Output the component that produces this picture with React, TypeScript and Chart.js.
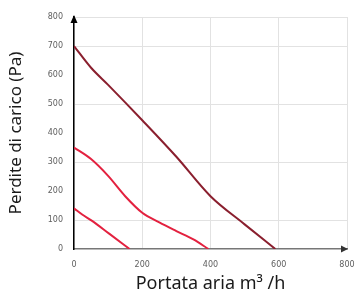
import React, { useEffect, useRef } from "react";
import { Chart, registerables } from "chart.js";

Chart.register(...registerables);

// Air flow (m³/h) and pressure drop (Pa) for each curve
const highFlow = [0, 50, 100, 200, 300, 400, 500, 590];
const highPressure = [700, 625, 566, 444, 318, 182, 85, 0];
const midFlow = [0, 50, 100, 150, 200, 250, 300, 350, 394];
const midPressure = [350, 310, 252, 182, 125, 92, 62, 33, 0];
const lowFlow = [0, 25, 53, 104, 163];
const lowPressure = [140, 118, 97, 52, 0];

const xTicks = [0, 200, 400, 600, 800];
const yTicks = [0, 100, 200, 300, 400, 500, 600, 700, 800];
const xTitle = "Portata aria m³ /h";
const yTitle = "Perdite di carico (Pa)";

const toPoints = (xs: number[], ys: number[]) => xs.map((x, i) => ({ x, y: ys[i] }));

const arrowPlugin = {
  id: "arrows",
  afterDraw(chart: any) {
    const { ctx, chartArea } = chart;
    ctx.save();
    ctx.fillStyle = "#000";
    ctx.beginPath();
    ctx.moveTo(chartArea.left, chartArea.top - 2);
    ctx.lineTo(chartArea.left - 3.5, chartArea.top + 6);
    ctx.lineTo(chartArea.left + 3.5, chartArea.top + 6);
    ctx.closePath();
    ctx.fill();
    ctx.fillStyle = "#333";
    ctx.beginPath();
    ctx.moveTo(chartArea.right + 1, chartArea.bottom);
    ctx.lineTo(chartArea.right - 6, chartArea.bottom - 3.5);
    ctx.lineTo(chartArea.right - 6, chartArea.bottom + 3.5);
    ctx.closePath();
    ctx.fill();
    ctx.restore();
  },
};

export default function App() {
  const ref = useRef<HTMLCanvasElement>(null);
  useEffect(() => {
    if (!ref.current) return;
    const tickFont = { family: "'DejaVu Sans', sans-serif", size: 8 };
    const line = (data: any, color: string) => ({
      data,
      borderColor: color,
      backgroundColor: color,
      borderWidth: 2,
      pointRadius: 0,
      cubicInterpolationMode: "monotone" as const,
      fill: false,
    });
    const chart = new Chart(ref.current, {
      type: "line",
      data: {
        datasets: [
          line(toPoints(highFlow, highPressure), "#8a1f2e"),
          line(toPoints(midFlow, midPressure), "#e3213f"),
          line(toPoints(lowFlow, lowPressure), "#e3213f"),
        ],
      },
      plugins: [arrowPlugin],
      options: {
        animation: false,
        responsive: false,
        maintainAspectRatio: false,
        layout: { padding: { top: 17, right: 11, left: 0, bottom: 0 } },
        plugins: { legend: { display: false }, tooltip: { enabled: false } },
        scales: {
          x: {
            type: "linear",
            min: 0,
            max: 800,
            afterBuildTicks: (s: any) => {
              s.ticks = xTicks.map((v) => ({ value: v }));
            },
            afterFit: (s: any) => {
              s.height = 45;
              s.paddingLeft = 0;
              s.paddingRight = 0;
            },
            ticks: { font: tickFont, color: "#5e5e5e", padding: 11 },
            grid: { color: "#e2e2e2", drawTicks: false },
            border: { color: "#777", width: 1.5 },
            title: {
              display: true,
              text: xTitle,
              font: { family: "'Noto Sans', sans-serif", size: 18, lineHeight: 1.1 },
              color: "#1a1a1a",
              padding: { top: 0, bottom: 0 },
            },
          },
          y: {
            type: "linear",
            min: 0,
            max: 800,
            afterBuildTicks: (s: any) => {
              s.ticks = yTicks.map((v) => ({ value: v }));
            },
            afterFit: (s: any) => {
              s.width = 74;
            },
            ticks: { font: tickFont, color: "#5e5e5e", padding: 11 },
            grid: {
              drawTicks: false,
              color: (c: any) => {
                const v = c.tick ? c.tick.value : 0;
                return v % 200 === 100 || v === 800 ? "#e2e2e2" : "rgba(0,0,0,0)";
              },
            },
            border: { color: "#000", width: 1.5 },
            title: {
              display: true,
              text: yTitle,
              font: { family: "'Noto Sans', sans-serif", size: 17 },
              color: "#1a1a1a",
              padding: { top: 6, bottom: 0 },
            },
          },
        },
      },
    });
    return () => chart.destroy();
  }, []);
  return (
    <div style={{ position: "fixed", left: 0, top: 0, width: 358, height: 294, background: "#fff" }}>
      <canvas ref={ref} width={358} height={294} style={{ width: 358, height: 294 }} />
    </div>
  );
}
